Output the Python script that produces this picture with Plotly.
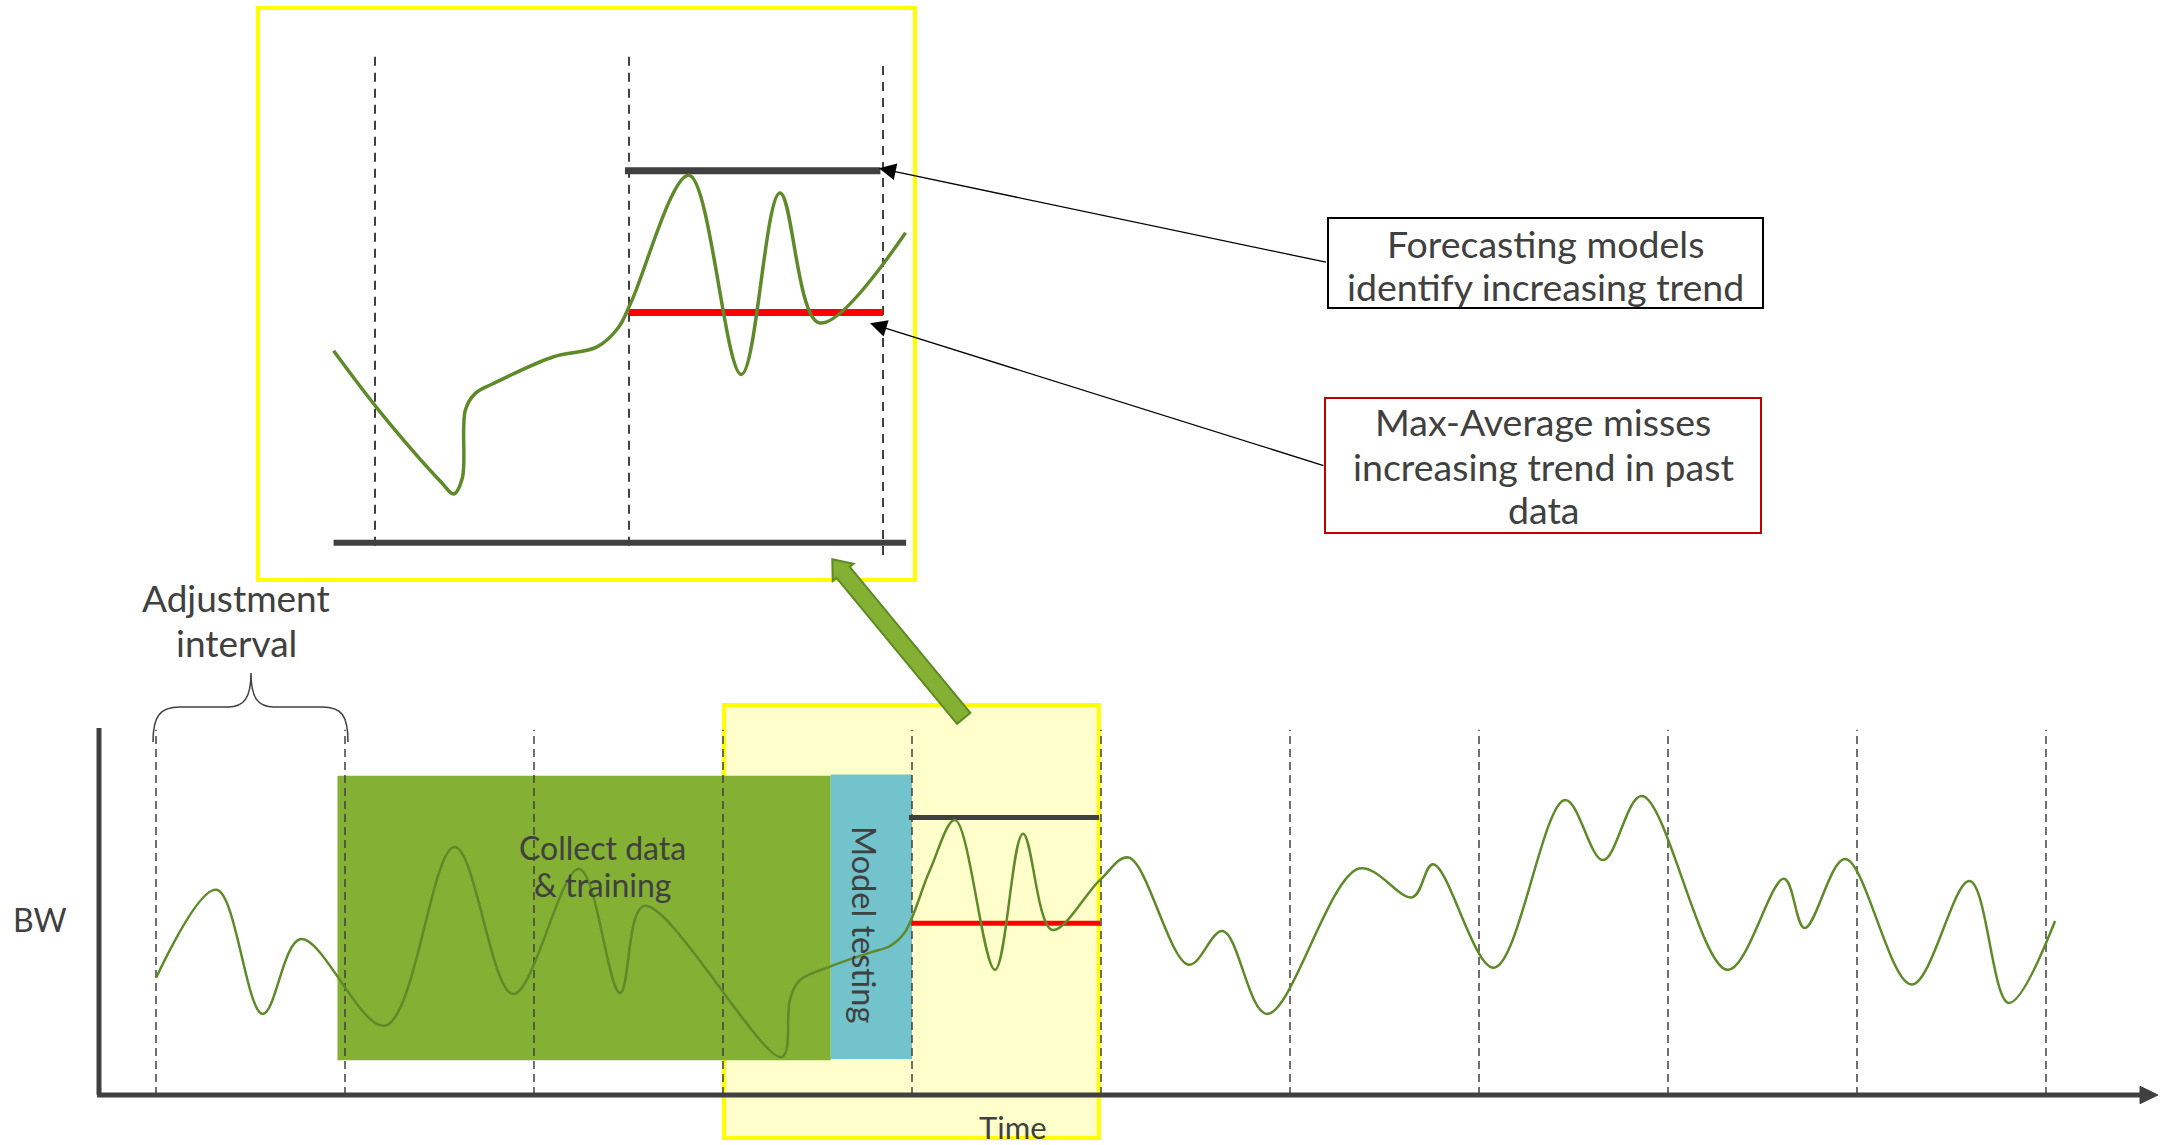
import math
import plotly.graph_objects as go

W, H = 2166, 1145

# ---------------- data ----------------
# Bandwidth over time; time is measured in adjustment intervals, BW in arbitrary units
time = [0.000, 0.320, 0.564, 0.766, 1.212, 1.580, 1.889, 2.238, 2.455, 2.582,
        3.311, 3.354, 3.407, 3.566, 3.778, 3.884, 3.963, 4.095, 4.228, 4.439,
        4.587, 4.741, 4.995, 5.146, 5.464, 5.644, 5.878, 6.365, 6.648, 6.757,
        7.079, 7.455, 7.656, 7.862, 8.315, 8.614, 8.723, 8.937, 9.289, 9.596,
        9.802, 10.048]
bw = [3.19, 5.59, 2.21, 4.25, 1.89, 6.76, 2.75, 6.16, 2.78, 5.15,
      1.04, 2.59, 3.13, 3.50, 3.88, 4.06, 4.44, 6.13, 7.49, 3.41,
      7.12, 4.50, 5.86, 6.47, 3.55, 4.47, 2.21, 6.17, 5.39, 6.29,
      3.47, 8.04, 6.40, 8.15, 3.41, 5.89, 4.55, 6.43, 3.01, 5.83,
      2.51, 4.74]

# Zoomed-in view of the tested interval
inset_time = [2.837, 3.020, 3.259, 3.310, 3.344, 3.356, 3.396, 3.464, 3.703,
              3.874, 3.959, 4.010, 4.236, 4.442, 4.594, 4.748, 5.089]
inset_bw = [3.90, 2.66, 1.24, 0.99, 1.32, 2.70, 3.04, 3.23, 3.78,
            3.98, 4.38, 4.91, 7.47, 3.42, 7.11, 4.47, 6.30]

interval_bounds = list(range(0, 11))       # adjustment interval boundaries
inset_bounds = [3, 4, 5]
collect_window = [0.96, 3.57]               # collect data & training
testing_window = [3.57, 4.0]                # model testing
phase_bw = [0.95, 8.70]
highlight_window = [3.005, 4.989]
forecast_window = [3.984, 4.99]
maxavg_window = [4.0, 4.995]
forecast_level = 7.56                       # forecasting models
maxavg_level = 4.68                         # max-average

# text blocks, one entry per line
forecast_note = ["Forecasting models", "identify increasing trend"]
maxavg_note = ["Max-Average misses", "increasing trend in past", "data"]
interval_note = ["Adjustment", "interval"]
collect_note = ["Collect data", "& training"]

# ---------------- scales ----------------
# main panel: pixel = origin + step * value
MX0, MXS = 156, 189.0
MY0, MYS = 1095, 36.7
# inset panel
IX0, IXS = 375, 254.0
IY0, IYS = 542.7, 49.2

INK = "#404040"
CURVE = "#5F8A2A"
FONT = "Lato"


def fx(x):
    return x / W


def fy(y):
    return 1 - y / H


def ppath(segments):
    out = []
    for cmd, pts in segments:
        out.append(cmd + " " + " ".join(f"{fx(x):.5f},{fy(y):.5f}" for x, y in pts))
    return " ".join(out)


fig = go.Figure()

# level lines (drawn first so the curves sit on top)
fig.add_trace(go.Scatter(x=forecast_window, y=[forecast_level] * 2, mode="lines",
                         line=dict(color=INK, width=5), hoverinfo="skip"))
fig.add_trace(go.Scatter(x=maxavg_window, y=[maxavg_level] * 2, mode="lines",
                         line=dict(color="#FF0000", width=5), hoverinfo="skip"))
fig.add_trace(go.Scatter(x=time, y=bw, mode="lines",
                         line=dict(color=CURVE, width=2.5, shape="spline", smoothing=1.0),
                         hoverinfo="skip"))

fig.add_trace(go.Scatter(x=forecast_window, y=[forecast_level] * 2, mode="lines",
                         xaxis="x2", yaxis="y2",
                         line=dict(color=INK, width=7), hoverinfo="skip"))
fig.add_trace(go.Scatter(x=[maxavg_window[0], 5.0], y=[maxavg_level] * 2, mode="lines",
                         xaxis="x2", yaxis="y2",
                         line=dict(color="#FF0000", width=7), hoverinfo="skip"))
fig.add_trace(go.Scatter(x=inset_time, y=inset_bw, mode="lines",
                         xaxis="x2", yaxis="y2",
                         line=dict(color=CURVE, width=3.5, shape="spline", smoothing=1.0),
                         hoverinfo="skip"))

shapes = []
# highlighted window of the main panel
shapes.append(dict(type="rect", xref="x", yref="y", layer="below",
                   x0=highlight_window[0], x1=highlight_window[1], y0=-1.17, y1=10.63,
                   fillcolor="#FFFFCC", line=dict(color="#FFFF00", width=4)))
# phases
shapes.append(dict(type="rect", xref="x", yref="y", layer="below",
                   x0=collect_window[0], x1=collect_window[1], y0=phase_bw[0], y1=phase_bw[1],
                   fillcolor="#84B034", line=dict(width=0)))
shapes.append(dict(type="rect", xref="x", yref="y", layer="below",
                   x0=testing_window[0], x1=testing_window[1], y0=phase_bw[0] + 0.03,
                   y1=phase_bw[1] + 0.03,
                   fillcolor="#72C3CC", line=dict(width=0)))
# interval boundaries
for t in interval_bounds:
    shapes.append(dict(type="line", xref="x", yref="y", layer="below",
                       x0=t, x1=t, y0=0, y1=9.95,
                       line=dict(color=INK, width=1.5, dash="8px,5px")))
# axes
x_left = (99 - MX0) / MXS
x_end = (2140 - MX0) / MXS
x_tip = (2158 - MX0) / MXS
shapes.append(dict(type="line", xref="x", yref="y", layer="below",
                   x0=x_left, x1=x_left, y0=0, y1=10.0, line=dict(color=INK, width=5)))
shapes.append(dict(type="line", xref="x", yref="y", layer="below",
                   x0=x_left - 0.01, x1=x_end, y0=0, y1=0, line=dict(color=INK, width=5)))
hh = 8.7 / MYS
shapes.append(dict(type="path", xref="x", yref="y", layer="below",
                   path=f"M {x_end},{hh} L {x_tip},0 L {x_end},{-hh} Z",
                   fillcolor=INK, line=dict(color=INK, width=1)))

# inset frame
shapes.append(dict(type="rect", xref="paper", yref="paper", layer="below",
                   x0=fx(258), x1=fx(915), y0=fy(580), y1=fy(8),
                   fillcolor="white", line=dict(color="#FFFF00", width=4)))
for t in inset_bounds:
    top, bot = (9.73, -0.25) if t == 5 else (9.90, -0.06)
    shapes.append(dict(type="line", xref="x2", yref="y2", layer="below",
                       x0=t, x1=t, y0=bot, y1=top,
                       line=dict(color=INK, width=2, dash="9px,7px")))
shapes.append(dict(type="line", xref="x2", yref="y2", layer="below",
                   x0=inset_time[0], x1=5.091, y0=0, y1=0, line=dict(color=INK, width=6)))

# big block arrow pointing from the highlighted window to the inset
tip = (832.3, 559.3)
tail = (963.7, 718.3)
dx, dy = tip[0] - tail[0], tip[1] - tail[1]
L = math.hypot(dx, dy)
ux, uy = dx / L, dy / L
nx, ny = -uy, ux
sw, hw, hl = 8.6, 13.5, 17.0
bx, by = tip[0] - hl * ux, tip[1] - hl * uy
poly = [(tail[0] + sw * nx, tail[1] + sw * ny), (bx + sw * nx, by + sw * ny),
        (bx + hw * nx, by + hw * ny), tip, (bx - hw * nx, by - hw * ny),
        (bx - sw * nx, by - sw * ny), (tail[0] - sw * nx, tail[1] - sw * ny)]
arrow_segments = [("M", [poly[0]])] + [("L", [p]) for p in poly[1:]]
shapes.append(dict(type="path", xref="paper", yref="paper", layer="above",
                   path=ppath(arrow_segments) + " Z",
                   fillcolor="#84B034", line=dict(color="#5E8A22", width=2)))

# curly brace over the first interval
shapes.append(dict(type="path", xref="paper", yref="paper", layer="above",
                   path=ppath([("M", [(153, 742)]),
                               ("C", [(153, 716), (160, 707), (180, 707)]),
                               ("L", [(228, 707)]),
                               ("C", [(244, 707), (251, 698), (251, 673)]),
                               ("C", [(251, 698), (258, 707), (274, 707)]),
                               ("L", [(322, 707)]),
                               ("C", [(342, 707), (348, 716), (348, 742)])]),
                   line=dict(color=INK, width=1.5)))

# callout boxes
shapes.append(dict(type="rect", xref="paper", yref="paper", layer="above",
                   x0=fx(1328), x1=fx(1763), y0=fy(308), y1=fy(218),
                   line=dict(color="black", width=2)))
shapes.append(dict(type="rect", xref="paper", yref="paper", layer="above",
                   x0=fx(1325), x1=fx(1761), y0=fy(533), y1=fy(398),
                   line=dict(color="#C00000", width=2)))


def label(text, x, y, size, angle=0):
    return dict(text=text, x=fx(x), y=fy(y), xref="paper", yref="paper",
                showarrow=False, xanchor="center", yanchor="middle", align="center",
                textangle=angle, font=dict(family=FONT, size=size, color=INK))


def block(lines, x, ys, size):
    return [label(t, x, y, size) for t, y in zip(lines, ys)]


def pointer(tip_xy, tail_xy):
    return dict(text="", x=fx(tip_xy[0]), y=fy(tip_xy[1]), xref="paper", yref="paper",
                ax=tail_xy[0] - tip_xy[0], ay=tail_xy[1] - tip_xy[1],
                axref="pixel", ayref="pixel", showarrow=True, arrowhead=2,
                arrowsize=2.6, arrowwidth=1.3, arrowcolor="black", standoff=0)


annotations = (
    block(forecast_note, 1545, [243, 287], 37.5)
    + block(maxavg_note, 1543, [421, 466, 510], 37.5)
    + block(interval_note, 236, [597, 642], 37)
    + block(collect_note, 602, [847, 884], 32)
    + [
        label("Model testing", 865, 924, 32.5, angle=90),
        label("BW", 40, 919, 32),
        label("Time", 1013, 1127, 31),
        pointer((879, 168.3), (1327.5, 262.5)),
        pointer((870, 323.3), (1325, 466)),
    ]
)

fig.update_layout(
    width=W, height=H,
    margin=dict(l=0, r=0, t=0, b=0),
    paper_bgcolor="white", plot_bgcolor="rgba(0,0,0,0)",
    showlegend=False,
    shapes=shapes, annotations=annotations,
    xaxis=dict(range=[(0 - MX0) / MXS, (W - MX0) / MXS], domain=[0, 1], visible=False,
               fixedrange=True),
    yaxis=dict(range=[(MY0 - H) / MYS, MY0 / MYS], domain=[0, 1], visible=False,
               fixedrange=True),
    xaxis2=dict(range=[3 - IX0 / IXS, 3 + (W - IX0) / IXS], overlaying="x", visible=False,
                fixedrange=True),
    yaxis2=dict(range=[(IY0 - H) / IYS, IY0 / IYS], overlaying="y", anchor="x2",
                visible=False, fixedrange=True),
)

fig.write_html("out.html", config={"displayModeBar": False})
